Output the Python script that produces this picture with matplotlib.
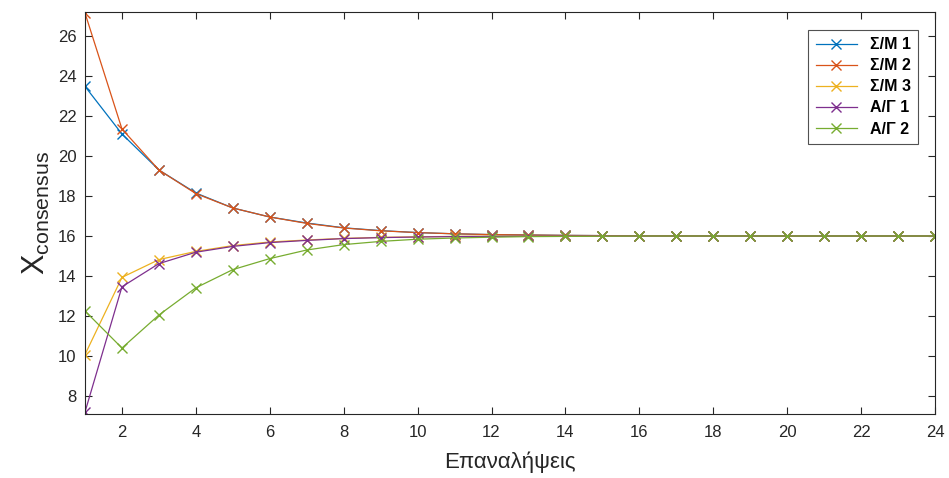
import matplotlib.pyplot as plt

# data
iterations = list(range(1, 25))
sm1 = [23.48, 21.1, 19.3, 18.15, 17.4, 16.95, 16.65, 16.41, 16.27, 16.17, 16.11, 16.07,
       16.05, 16.03, 16.02, 16.01, 16.01, 16.0, 16.0, 16.0, 16.0, 16.0, 16.0, 16.0]
sm2 = [27.15, 21.35, 19.3, 18.12, 17.4, 16.95, 16.63, 16.4, 16.26, 16.17, 16.11, 16.07,
       16.05, 16.03, 16.02, 16.01, 16.01, 16.0, 16.0, 16.0, 16.0, 16.0, 16.0, 16.0]
sm3 = [10.07, 13.93, 14.82, 15.23, 15.52, 15.7, 15.8, 15.88, 15.93, 15.96, 15.98, 15.99,
       15.99, 16.0, 16.0, 16.0, 16.0, 16.0, 16.0, 16.0, 16.0, 16.0, 16.0, 16.0]
ag1 = [7.2, 13.46, 14.62, 15.19, 15.48, 15.67, 15.78, 15.87, 15.92, 15.95, 15.97, 15.98,
       15.99, 16.0, 16.0, 16.0, 16.0, 16.0, 16.0, 16.0, 16.0, 16.0, 16.0, 16.0]
ag2 = [12.25, 10.4, 12.05, 13.41, 14.32, 14.87, 15.3, 15.57, 15.73, 15.84, 15.9, 15.94,
       15.97, 15.98, 15.99, 16.0, 16.0, 16.0, 16.0, 16.0, 16.0, 16.0, 16.0, 16.0]
labels = ["Σ/Μ 1", "Σ/Μ 2", "Σ/Μ 3", "Α/Γ 1", "Α/Γ 2"]
colors = ["#0072BD", "#D95319", "#EDB120", "#7E2F8E", "#77AC30"]

plt.rcParams['font.family'] = ['Liberation Sans', 'DejaVu Sans']

fig = plt.figure(figsize=(9.49, 4.78), dpi=100)
ax = fig.add_axes([85 / 949, 1 - 414 / 478, 850 / 949, 402 / 478])

for ys, lab, col in zip([sm1, sm2, sm3, ag1, ag2], labels, colors):
    ax.plot(iterations, ys, color=col, marker="x", markersize=7.5, linewidth=0.9,
            markeredgewidth=1.0, label=lab)

ax.set_xlim(1, 24)
ax.set_ylim(7.1, 27.2)
ax.set_xticks(range(2, 25, 2))
ax.set_yticks(range(8, 27, 2))
ax.tick_params(direction="in", top=True, right=True, labelsize=12, colors="#262626",
               length=5)
ax.tick_params(axis="x", pad=8)
ax.tick_params(axis="y", pad=6)
for s in ax.spines.values():
    s.set_color("#262626")
    s.set_linewidth(0.8)

ax.set_xlabel("Επαναλήψεις", fontsize=16, color="#262626", labelpad=8)
ax.set_ylabel(r"$\mathregular{X_{consensus}}$", fontsize=22, color="#262626", labelpad=4)

leg = ax.legend(loc="upper right", bbox_to_anchor=(0.98, 0.955), borderaxespad=0,
                fancybox=False, edgecolor="#262626",
                prop={"weight": "bold", "size": 11.5},
                handlelength=2.6, labelspacing=0.38, borderpad=0.45)
leg.get_frame().set_linewidth(0.8)

plt.savefig("out.png")
